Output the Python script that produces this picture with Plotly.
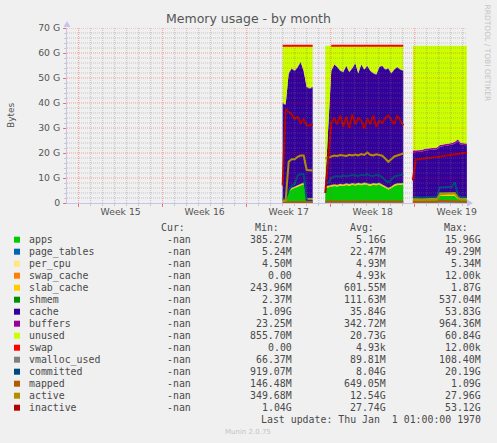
import plotly.graph_objects as go

# ---------------- data (values in G bytes, time in days from start of Week 15) -------------
days = [17.00, 17.25, 17.50, 17.75, 18.00, 18.25, 18.50, 18.75, 19.00, 19.25, 19.50, None,
        20.55, 20.80, 21.05, 21.30, 21.55, 21.80, 22.05, 22.30, 22.55, 22.80, 23.05, 23.30, 23.55, 23.80,
        24.05, 24.30, 24.55, 24.80, 25.05, 25.30, 25.55, 25.80, 26.05, 26.30, 26.55, 26.80, 27.05, None,
        27.85, 28.10, 28.35, 28.60, 28.85, 29.10, 29.35, 29.60, 29.85, 30.10, 30.35, 30.60, 30.85, 31.10,
        31.35, 31.60, 31.85, 32.10, 32.35]

apps = [0.4, 0.4, 4.5, 5.5, 6.0, 6.5, 7.0, 7.5, 0.6, 0.6, 0.6, None,
        6.0, 6.2, 6.5, 6.8, 6.6, 7.0, 6.8, 7.2, 6.9, 7.3, 7.0, 7.4, 7.1, 7.5,
        7.2, 6.9, 7.3, 7.1, 7.4, 6.8, 6.0, 5.4, 5.9, 6.8, 7.2, 7.4, 7.3, None,
        1.2, 1.2, 1.3, 1.3, 1.3, 1.3, 1.3, 1.3, 1.3, 2.8, 2.8, 2.9, 2.9, 2.8,
        2.8, 1.6, 1.3, 1.3, 1.3]
page_tables = [0.02, 0.02, 0.02, 0.02, 0.02, 0.02, 0.02, 0.02, 0.02, 0.02, 0.02, None,
               0.03, 0.03, 0.03, 0.03, 0.03, 0.03, 0.03, 0.03, 0.03, 0.03, 0.03, 0.03, 0.03, 0.03,
               0.03, 0.03, 0.03, 0.03, 0.03, 0.03, 0.03, 0.03, 0.03, 0.03, 0.03, 0.03, 0.03, None,
               0.01, 0.01, 0.01, 0.01, 0.01, 0.01, 0.01, 0.01, 0.01, 0.01, 0.01, 0.01, 0.01, 0.01,
               0.01, 0.01, 0.01, 0.01, 0.01]
per_cpu = [0.005, 0.005, 0.005, 0.005, 0.005, 0.005, 0.005, 0.005, 0.005, 0.005, 0.005, None,
           0.005, 0.005, 0.005, 0.005, 0.005, 0.005, 0.005, 0.005, 0.005, 0.005, 0.005, 0.005, 0.005, 0.005,
           0.005, 0.005, 0.005, 0.005, 0.005, 0.005, 0.005, 0.005, 0.005, 0.005, 0.005, 0.005, 0.005, None,
           0.005, 0.005, 0.005, 0.005, 0.005, 0.005, 0.005, 0.005, 0.005, 0.005, 0.005, 0.005, 0.005, 0.005,
           0.005, 0.005, 0.005, 0.005, 0.005]
swap_cache = [0.0, 0.0, 0.0, 0.0, 0.0, 0.0, 0.0, 0.0, 0.0, 0.0, 0.0, None,
              0.0, 0.0, 0.0, 0.0, 0.0, 0.0, 0.0, 0.0, 0.0, 0.0, 0.0, 0.0, 0.0, 0.0,
              0.0, 0.0, 0.0, 0.0, 0.0, 0.0, 0.0, 0.0, 0.0, 0.0, 0.0, 0.0, 0.0, None,
              0.0, 0.0, 0.0, 0.0, 0.0, 0.0, 0.0, 0.0, 0.0, 0.0, 0.0, 0.0, 0.0, 0.0,
              0.0, 0.0, 0.0, 0.0, 0.0]
slab_cache = [0.4, 0.4, 0.5, 0.5, 0.5, 0.5, 0.6, 0.6, 1.2, 1.2, 1.2, None,
              0.6, 0.6, 0.6, 0.6, 0.6, 0.6, 0.6, 0.6, 0.6, 0.6, 0.6, 0.6, 0.6, 0.6,
              0.6, 0.6, 0.6, 0.6, 0.6, 0.6, 0.6, 0.6, 0.6, 0.6, 0.6, 0.6, 0.6, None,
              0.5, 0.5, 0.5, 0.5, 0.5, 0.5, 0.5, 0.5, 0.5, 1.2, 1.2, 1.2, 1.2, 1.2,
              1.2, 0.6, 0.5, 0.5, 0.5]
shmem = [0.1, 0.1, 0.1, 0.1, 0.1, 0.1, 0.1, 0.1, 0.1, 0.1, 0.1, None,
         0.1, 0.1, 0.1, 0.1, 0.1, 0.1, 0.1, 0.1, 0.1, 0.1, 0.1, 0.1, 0.1, 0.1,
         0.1, 0.1, 0.1, 0.1, 0.1, 0.1, 0.1, 0.1, 0.1, 0.1, 0.1, 0.1, 0.1, None,
         0.3, 0.3, 0.3, 0.3, 0.3, 0.3, 0.3, 0.3, 0.3, 0.3, 0.3, 0.3, 0.3, 0.3,
         0.3, 0.3, 0.3, 0.3, 0.3]
cache = [38.77, 38.27, 46.57, 47.57, 46.07, 47.07, 48.47, 44.47, 44.27, 43.77, 44.27, None,
         1.06, 22.86, 45.56, 47.76, 46.96, 45.06, 44.76, 46.86, 44.66, 45.76, 48.06, 43.66, 47.46, 45.06,
         46.86, 45.16, 43.76, 43.46, 46.16, 47.26, 46.56, 47.66, 45.16, 45.76, 46.36, 45.16, 44.76, None,
         18.28, 18.28, 18.28, 18.38, 18.88, 18.98, 19.08, 19.18, 19.38, 18.18, 18.38, 18.38, 18.58, 18.98,
         19.48, 22.18, 21.18, 21.08, 20.98]
buffers = [0.3, 0.3, 0.3, 0.3, 0.3, 0.3, 0.3, 0.3, 0.3, 0.3, 0.3, None,
           0.2, 0.2, 0.2, 0.2, 0.2, 0.2, 0.2, 0.2, 0.2, 0.2, 0.2, 0.2, 0.2, 0.2,
           0.2, 0.2, 0.2, 0.2, 0.2, 0.2, 0.2, 0.2, 0.2, 0.2, 0.2, 0.2, 0.2, None,
           0.7, 0.7, 0.7, 0.7, 0.7, 0.7, 0.7, 0.7, 0.7, 0.7, 0.7, 0.7, 0.7, 0.7,
           0.7, 0.8, 0.7, 0.7, 0.7]
unused = [22.9, 23.4, 10.9, 8.9, 9.9, 8.4, 6.4, 9.9, 16.4, 16.9, 16.4, None,
          54.9, 32.9, 9.9, 7.4, 8.4, 9.9, 10.4, 7.9, 10.4, 8.9, 6.9, 10.9, 7.4, 9.4,
          7.9, 9.9, 10.9, 11.4, 8.4, 7.9, 9.4, 8.9, 10.9, 9.4, 8.4, 9.4, 9.9, None,
          41.9, 41.9, 41.8, 41.7, 41.2, 41.1, 41.0, 40.9, 40.7, 39.7, 39.5, 39.4, 39.2, 38.9,
          38.4, 37.4, 38.9, 39.0, 39.1]
swap = [0.00001, 0.00001, 0.00001, 0.00001, 0.00001, 0.00001, 0.00001, 0.00001, 0.00001, 0.00001, 0.00001, None,
        None, None, 0.00001, 0.00001, 0.00001, 0.00001, 0.00001, 0.00001, 0.00001, 0.00001, 0.00001, 0.00001,
        0.00001, 0.00001, 0.00001, 0.00001, 0.00001, 0.00001, 0.00001, 0.00001, 0.00001, 0.00001, 0.00001,
        0.00001, 0.00001, 0.00001, 0.00001, None,
        None, None, None, None, None, None, None, None, None, None, None, None, None, None,
        None, None, None, None, None]

vmalloc_used = [0.07, 0.07, 0.08, 0.08, 0.08, 0.08, 0.08, 0.08, 0.08, 0.08, 0.08, None,
                0.09, 0.09, 0.09, 0.09, 0.09, 0.09, 0.09, 0.09, 0.09, 0.09, 0.09, 0.09, 0.09, 0.09,
                0.09, 0.09, 0.09, 0.09, 0.09, 0.09, 0.09, 0.09, 0.09, 0.09, 0.09, 0.09, 0.09, None,
                0.1, 0.1, 0.1, 0.1, 0.1, 0.1, 0.1, 0.1, 0.1, 0.1, 0.1, 0.1, 0.1, 0.1,
                0.1, 0.1, 0.1, 0.1, 0.1]
committed = [1.5, 1.5, 5.0, 7.0, 7.5, 11.0, 11.5, 11.5, 1.0, 1.0, 1.0, None,
             8.0, 8.3, 10.0, 10.6, 10.8, 10.5, 11.0, 10.7, 10.9, 11.2, 11.0, 10.8, 11.3, 11.0,
             11.5, 10.9, 10.8, 11.2, 11.0, 10.4, 9.0, 8.4, 9.3, 10.6, 10.9, 11.2, 11.4, None,
             2.5, 2.3, 2.2, 2.2, 2.3, 2.3, 2.4, 2.4, 2.6, 6.2, 6.3, 6.1, 6.4, 6.5,
             8.3, 3.0, 2.5, 2.5, 2.4]
mapped = [0.3, 0.3, 0.5, 0.6, 0.6, 0.6, 0.6, 0.6, 0.4, 0.4, 0.4, None,
          0.6, 0.6, 0.6, 0.65, 0.6, 0.65, 0.6, 0.6, 0.65, 0.6, 0.6, 0.65, 0.6, 0.6,
          0.65, 0.6, 0.6, 0.6, 0.65, 0.6, 0.6, 0.55, 0.6, 0.6, 0.65, 0.6, 0.6, None,
          0.5, 0.5, 0.5, 0.5, 0.5, 0.5, 0.5, 0.5, 0.5, 0.9, 0.9, 0.9, 0.9, 0.9,
          0.9, 0.6, 0.5, 0.5, 0.5]
active = [1.0, 1.0, 16.5, 17.5, 17.5, 18.5, 19.0, 19.0, 13.2, 13.0, 13.0, None,
          17.8, 18.3, 18.5, 19.0, 18.8, 19.2, 19.0, 18.8, 19.3, 19.0, 19.4, 19.0, 19.6, 19.2,
          20.2, 19.3, 19.0, 19.5, 19.2, 18.9, 17.8, 16.5, 17.5, 18.6, 19.0, 19.5, 19.8, None,
          1.2, 1.3, 1.3, 1.3, 1.3, 1.3, 1.3, 1.3, 1.4, 3.5, 3.7, 3.7, 3.8, 3.8,
          3.9, 2.2, 1.4, 1.4, 1.4]
inactive = [7.0, 37.5, 36.5, 35.5, 33.5, 34.5, 32.0, 33.5, 31.0, 31.0, 31.5, None,
            4.0, 19.0, 32.0, 33.8, 31.5, 35.0, 30.5, 34.5, 30.0, 35.5, 31.5, 34.0, 33.0, 29.8,
            33.8, 31.5, 35.0, 30.5, 33.0, 32.0, 34.0, 35.0, 33.0, 31.5, 35.0, 33.0, 31.0, None,
            9.0, 17.4, 17.5, 17.6, 17.8, 18.0, 18.1, 18.3, 18.4, 18.6, 18.8, 18.9, 19.1, 19.3,
            19.4, 19.6, 19.8, 19.9, 20.1]

week_ticks = [3.5, 10.5, 17.5, 24.5, 31.5]
week_labels = ["Week 15", "Week 16", "Week 17", "Week 18", "Week 19"]
y_ticks = [0, 10, 20, 30, 40, 50, 60, 70]
y_labels = ["0", "10 G", "20 G", "30 G", "40 G", "50 G", "60 G", "70 G"]

legend_names = ["apps", "page_tables", "per_cpu", "swap_cache", "slab_cache", "shmem", "cache",
                "buffers", "unused", "swap", "vmalloc_used", "committed", "mapped", "active", "inactive"]
legend_cur = ["-nan", "-nan", "-nan", "-nan", "-nan", "-nan", "-nan", "-nan", "-nan", "-nan",
              "-nan", "-nan", "-nan", "-nan", "-nan"]
legend_min = ["385.27M", "5.24M", "4.50M", "0.00", "243.96M", "2.37M", "1.09G", "23.25M", "855.70M",
              "0.00", "66.37M", "919.07M", "146.48M", "349.68M", "1.04G"]
legend_avg = ["5.16G", "22.47M", "4.93M", "4.93k", "601.55M", "111.63M", "35.84G", "342.72M", "20.73G",
              "4.93k", "89.81M", "8.04G", "649.05M", "12.54G", "27.74G"]
legend_max = ["15.96G", "49.29M", "5.34M", "12.00k", "1.87G", "537.04M", "53.83G", "964.36M", "60.84G",
              "12.00k", "108.40M", "20.19G", "1.09G", "27.96G", "53.12G"]

# ---------------- styles -------------
COLORS = {
    "apps": "#00CC00", "page_tables": "#0066B3", "per_cpu": "#FFE680", "swap_cache": "#FF8000",
    "slab_cache": "#FFCC00", "shmem": "#008F00", "cache": "#330099", "buffers": "#990099",
    "unused": "#CCFF00", "swap": "#FF0000", "vmalloc_used": "#808080", "committed": "#00487D",
    "mapped": "#B35A00", "active": "#B38F00", "inactive": "#B30000",
}
stack_series = [("apps", apps), ("page_tables", page_tables), ("per_cpu", per_cpu),
                ("swap_cache", swap_cache), ("slab_cache", slab_cache), ("shmem", shmem),
                ("cache", cache), ("buffers", buffers), ("unused", unused)]
line_series = [("vmalloc_used", vmalloc_used), ("committed", committed), ("mapped", mapped),
               ("active", active), ("inactive", inactive)]

W_PX, H_PX = 497, 443
L, R, T, B = 67, 30, 28, 240
PW, PH = W_PX - L - R, H_PX - T - B
X_RANGE = [-0.97, 32.36]


def px(x):
    return (x - L) / PW


def py(y):
    return (T + PH - y) / PH


# split into contiguous segments (None marks a data gap)
segments = []
cur = []
for i, d in enumerate(days):
    if d is None:
        if cur:
            segments.append(cur)
        cur = []
    else:
        cur.append(i)
if cur:
    segments.append(cur)

fig = go.Figure()

for seg in segments:
    xs = [days[i] for i in seg]
    base = [0.0 for _ in seg]
    first = True
    for name, vals in stack_series:
        top = [b + vals[i] for b, i in zip(base, seg)]
        fig.add_trace(go.Scatter(
            x=xs, y=top, mode="lines", line=dict(width=0, color=COLORS[name]),
            fill="tozeroy" if first else "tonexty", fillcolor=COLORS[name],
            showlegend=False, hoverinfo="skip"))
        first = False
        base = top
    sw = [None if swap[i] is None else b + swap[i] for b, i in zip(base, seg)]
    if any(v is not None for v in sw):
        fig.add_trace(go.Scatter(x=xs, y=sw, mode="lines",
                                 line=dict(width=2, color=COLORS["swap"]),
                                 showlegend=False, hoverinfo="skip"))

for name, vals in line_series:
    fig.add_trace(go.Scatter(x=days, y=vals, mode="lines", connectgaps=False,
                             line=dict(width=2, color=COLORS[name]),
                             showlegend=False, hoverinfo="skip"))

# dummy trace for the week-boundary tick axis
fig.add_trace(go.Scatter(x=[None], y=[None], xaxis="x2", yaxis="y", showlegend=False))

shapes = []
MINOR = "rgba(120,120,120,0.38)"
MAJOR = "rgba(255,40,40,0.42)"
for g in range(2, 71, 2):
    shapes.append(dict(type="line", xref="x", yref="y", x0=X_RANGE[0], x1=X_RANGE[1], y0=g, y1=g,
                       line=dict(color=MAJOR if g % 10 == 0 else MINOR, width=1, dash="1px,1px"),
                       layer="above"))
for d in range(0, 33):
    shapes.append(dict(type="line", xref="x", yref="y", x0=d, x1=d, y0=0, y1=70,
                       line=dict(color=MAJOR if d % 7 == 0 else MINOR, width=1, dash="1px,1px"),
                       layer="above"))

AXIS_COL = "#c4c4ee"
# axis arrows
shapes.append(dict(type="path", xref="paper", yref="paper",
                   path=f"M {px(67)} {py(21)} L {px(63.5)} {py(27)} L {px(70.5)} {py(27)} Z",
                   fillcolor=AXIS_COL, line=dict(width=0)))
shapes.append(dict(type="path", xref="paper", yref="paper",
                   path=f"M {px(473)} {py(203)} L {px(467)} {py(199.5)} L {px(467)} {py(206.5)} Z",
                   fillcolor=AXIS_COL, line=dict(width=0)))

# legend squares
ROW0, ROW_STEP = 239.7, 12
for k, name in enumerate(legend_names):
    yc = ROW0 + ROW_STEP * k
    shapes.append(dict(type="rect", xref="paper", yref="paper",
                       x0=px(14), x1=px(20), y0=py(yc + 3), y1=py(yc - 3),
                       fillcolor=COLORS[name], line=dict(width=0)))

MONO = "DejaVu Sans Mono"
SANS = "DejaVu Sans"
TXT = "#4a4a4a"
ann = []


def text(s, x, y, xanchor="left", size=9.9, family=MONO, color=TXT, angle=0):
    ann.append(dict(text=s, x=px(x), y=py(y), xref="paper", yref="paper", xanchor=xanchor,
                    yanchor="middle", showarrow=False, textangle=angle,
                    font=dict(family=family, size=size, color=color)))


HDR_Y = 227.5
text("Cur:", 186.7, HDR_Y, "right")
text("Min:", 281.0, HDR_Y, "right")
text("Avg:", 375.7, HDR_Y, "right")
text("Max:", 470.0, HDR_Y, "right")
for k, name in enumerate(legend_names):
    yc = ROW0 + ROW_STEP * k
    text(name, 26.7, yc, "left")
    text(legend_cur[k], 192.5, yc, "right")
    text(legend_min[k], 293.5, yc, "right")
    text(legend_avg[k], 388.0, yc, "right")
    text(legend_max[k], 482.5, yc, "right")
text("Last update: Thu Jan \u00a01 01:00:00 1970", 482.5, 419.7, "right")
text("Munin 2.0.75", 248, 431.7, "center", size=7, family=SANS, color="#c4c4c4")
text("RRDTOOL / TOBI OETIKER", 487.5, 53, "center", size=7.5, family=SANS, color="#c4c4c4", angle=90)
text("Bytes", 11, 115, "center", size=9, family=SANS, color="#555555", angle=-90)

fig.update_layout(
    width=W_PX, height=H_PX,
    margin=dict(l=L, r=R, t=T, b=B, pad=0),
    paper_bgcolor="#f0f0f0", plot_bgcolor="#f0f0f0",
    title=dict(text="Memory usage - by month", x=0.5, xref="container", xanchor="center",
               y=1 - 19 / H_PX, yref="container", yanchor="middle",
               font=dict(family=SANS, size=12.5, color="#555555")),
    xaxis=dict(range=X_RANGE, showgrid=False, zeroline=False, showline=True, linecolor=AXIS_COL,
               linewidth=1, tickvals=week_ticks, ticktext=week_labels, ticks="",
               tickfont=dict(family=SANS, size=9.3, color="#555555"),
               minor=dict(ticks="outside", ticklen=2, tickcolor="#c8c8c8", dtick=1, tick0=0,
                          showgrid=False)),
    xaxis2=dict(range=X_RANGE, overlaying="x", anchor="y", side="bottom", showgrid=False,
                zeroline=False, showline=False, showticklabels=False, ticks="outside", ticklen=3,
                tickcolor="rgba(255,40,40,0.6)", tickvals=[0, 7, 14, 21, 28]),
    yaxis=dict(range=[0, 70], showgrid=False, zeroline=False, showline=True, linecolor=AXIS_COL,
               linewidth=1, tickvals=y_ticks, ticktext=y_labels, ticks="outside", ticklen=3,
               tickcolor="rgba(255,40,40,0.6)", ticklabelstandoff=1,
               tickfont=dict(family=SANS, size=9.3, color="#555555"),
               minor=dict(ticks="outside", ticklen=2, tickcolor="#c8c8c8", dtick=2, tick0=0,
                          showgrid=False)),
    shapes=shapes,
    annotations=ann,
    showlegend=False,
    hovermode=False,
)

fig.write_html(
    "out.html",
    config={"displayModeBar": False, "staticPlot": True},
    post_script="document.body.style.margin='0';document.body.style.background='#f0f0f0';",
)
